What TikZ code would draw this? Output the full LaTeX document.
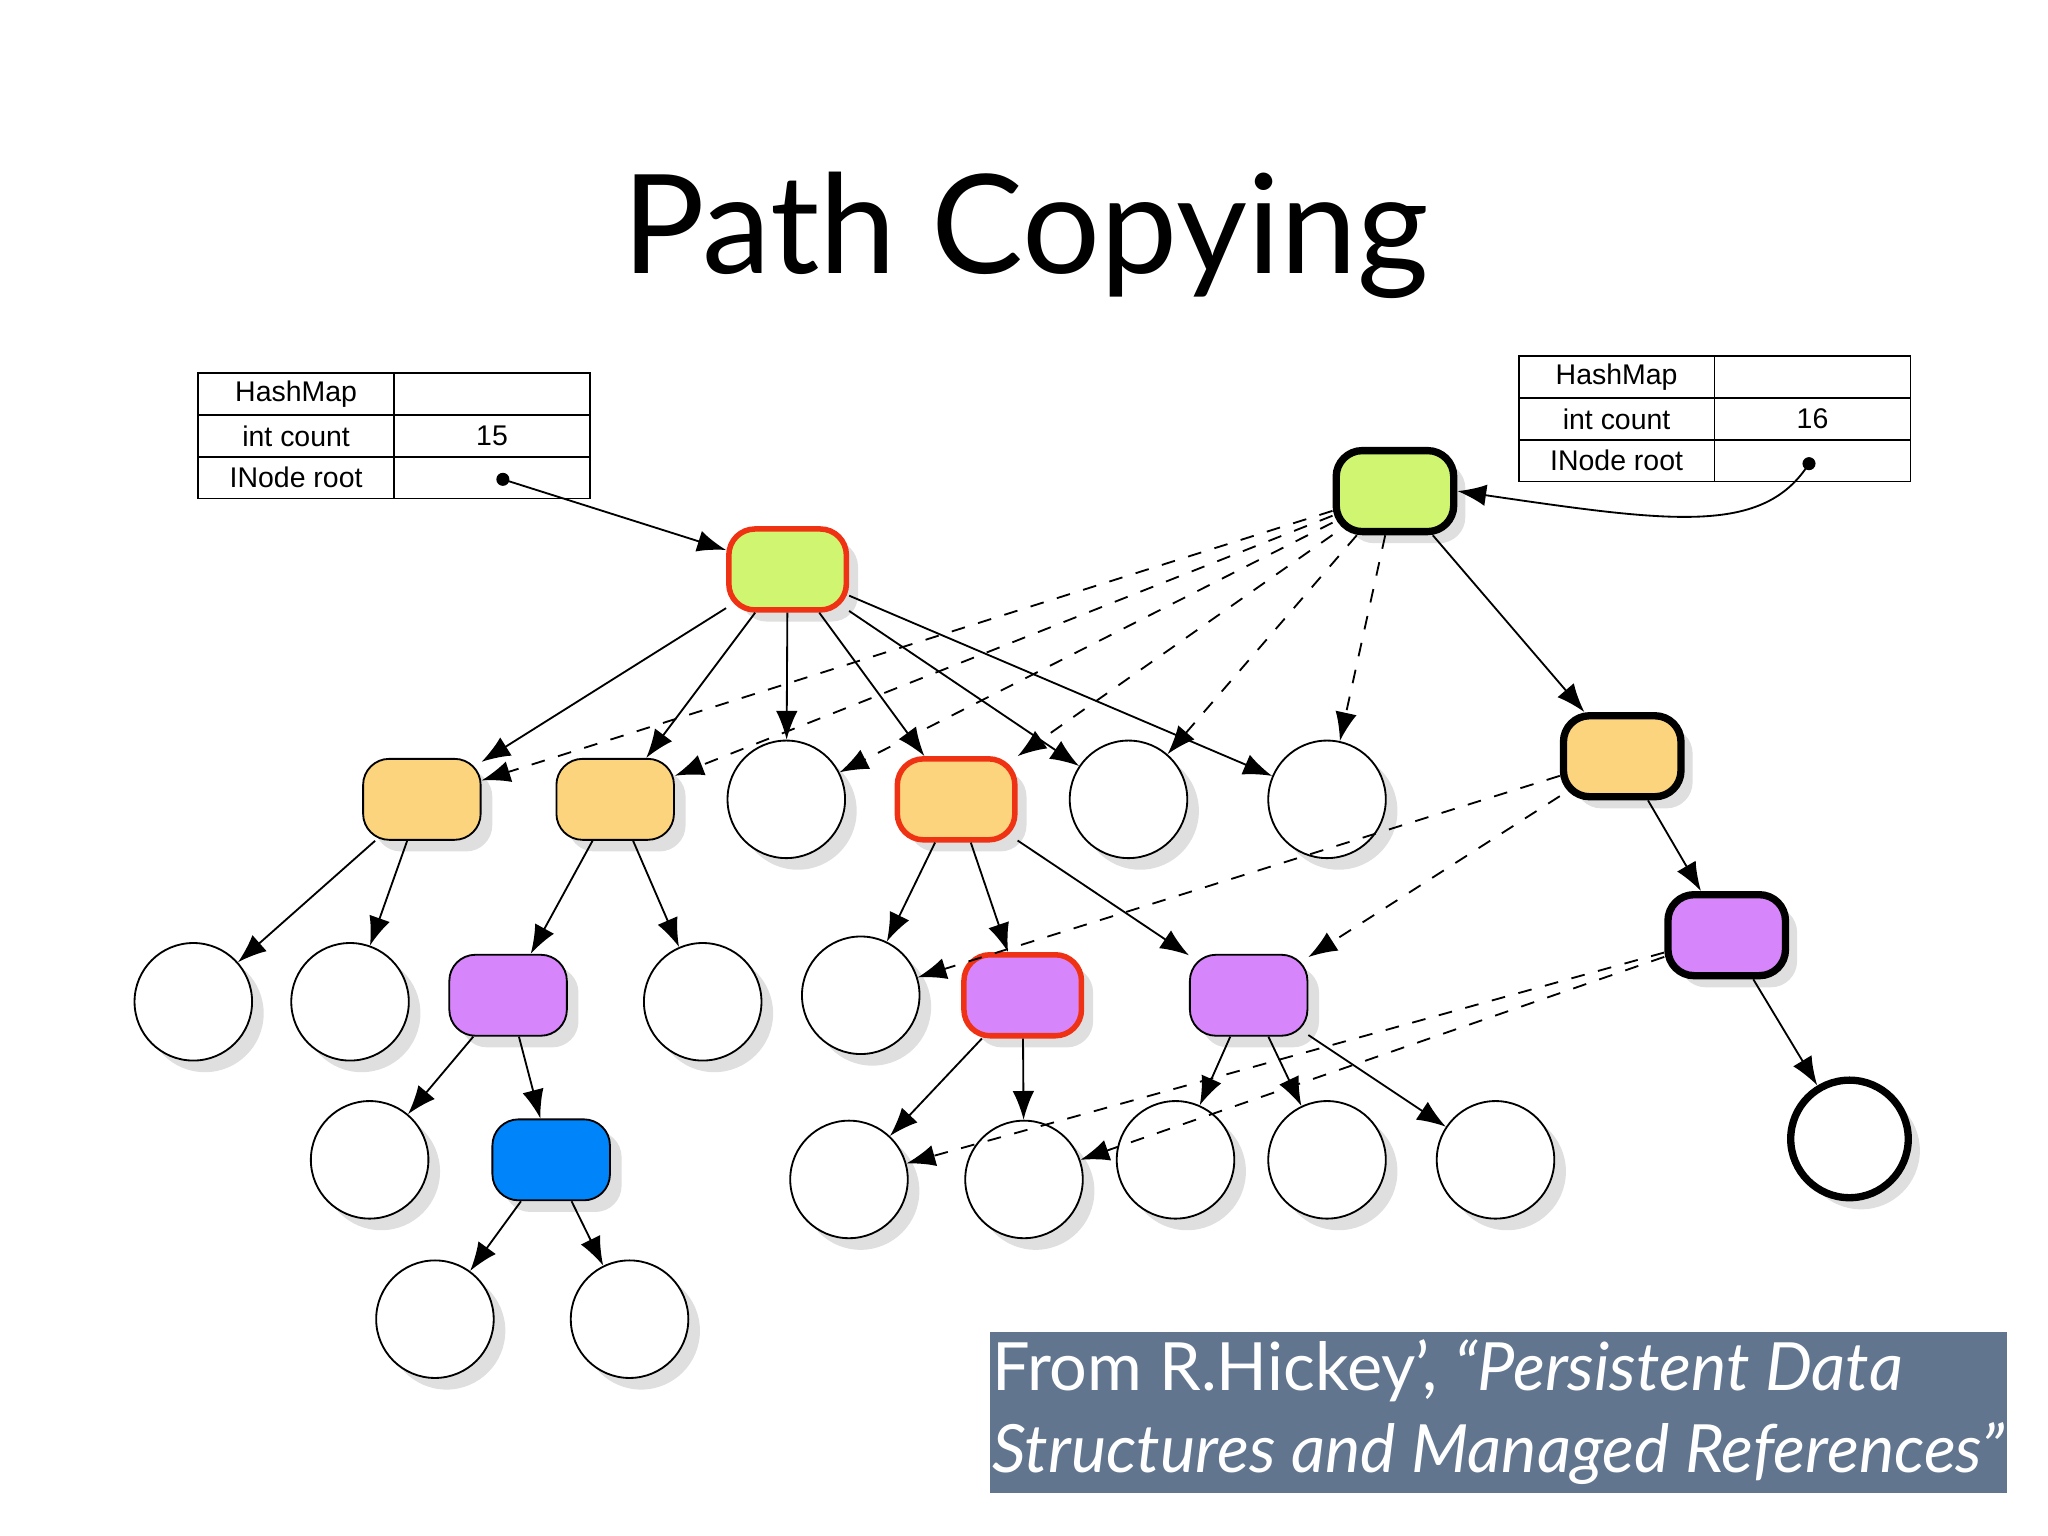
\documentclass[tikz,border=0pt]{standalone}
\usepackage{fontspec}
\setmainfont{Lato}
\setsansfont{Liberation Sans}
\usetikzlibrary{arrows.meta,shadows}
\definecolor{lime}{RGB}{208,245,112}
\definecolor{sand}{RGB}{252,212,126}
\definecolor{lilac}{RGB}{214,134,250}
\definecolor{sky}{RGB}{0,132,250}
\definecolor{redline}{RGB}{240,50,20}
\definecolor{slate}{RGB}{97,117,143}
\tikzset{
  inode/.style={draw, rounded corners=0.2cm, minimum width=0.9cm, minimum height=0.62cm, drop shadow={opacity=0.25}},
  leaf/.style={draw, circle, fill=white, minimum size=0.9cm, drop shadow={opacity=0.25}},
  changed/.style={draw=redline, very thick},
  fresh/.style={ultra thick},
  cell/.style={draw, fill=white, minimum width=1.5cm, minimum height=0.32cm, inner sep=0pt, font=\fontsize{6.2}{7}\selectfont\sffamily},
  link/.style={-{Latex[length=2.2mm]}},
  share/.style={link, dashed},
}
\begin{document}
\begin{tikzpicture}[x=1cm,y=-1cm]
\useasboundingbox (0,0) rectangle (15.68,11.76);
\node[font=\fontsize{30}{36}\selectfont] (title) at (7.85,1.8) {Path Copying};

% old map header
\node[cell, anchor=north west] (oh) at (1.51,2.85) {HashMap};
\node[cell, anchor=north west] (ov) at (3.01,2.85) {};
\node[cell, anchor=north west] (oc) at (1.51,3.17) {int count};
\node[cell, anchor=north west] (ocv) at (3.01,3.17) {15};
\node[cell, anchor=north west] (or) at (1.51,3.49) {INode root};
\node[cell, anchor=north west] (orv) at (3.01,3.49) {};
\fill (3.85,3.67) circle (0.05) coordinate (odot);

% new map header
\node[cell, anchor=north west] (nh) at (11.62,2.72) {HashMap};
\node[cell, anchor=north west] (nv) at (13.12,2.72) {};
\node[cell, anchor=north west] (nc) at (11.62,3.04) {int count};
\node[cell, anchor=north west] (ncv) at (13.12,3.04) {16};
\node[cell, anchor=north west] (nr) at (11.62,3.36) {INode root};
\node[cell, anchor=north west] (nrv) at (13.12,3.36) {};
\fill (13.85,3.55) circle (0.05) coordinate (ndot);

% roots
\node[inode, fill=lime, changed] (rootA) at (6.03,4.36) {};
\node[inode, fill=lime, fresh] (rootB) at (10.68,3.76) {};

% level 2
\node[inode, fill=sand] (a) at (3.23,6.12) {};
\node[inode, fill=sand] (b) at (4.71,6.12) {};
\node[leaf] (c) at (6.02,6.12) {};
\node[inode, fill=sand, changed] (d) at (7.32,6.12) {};
\node[leaf] (e) at (8.64,6.12) {};
\node[leaf] (f) at (10.16,6.12) {};
\node[inode, fill=sand, fresh] (g) at (12.42,5.79) {};

% level 3
\node[leaf] (a1) at (1.48,7.67) {};
\node[leaf] (a2) at (2.68,7.67) {};
\node[inode, fill=lilac] (h) at (3.89,7.62) {};
\node[leaf] (b2) at (5.38,7.67) {};
\node[leaf] (d1) at (6.59,7.62) {};
\node[inode, fill=lilac, changed] (i) at (7.83,7.62) {};
\node[inode, fill=lilac] (j) at (9.56,7.62) {};
\node[inode, fill=lilac, fresh] (k) at (13.22,7.16) {};

% level 4
\node[leaf] (h1) at (2.83,8.88) {};
\node[inode, fill=sky] (l) at (4.22,8.88) {};
\node[leaf] (i1) at (6.50,9.03) {};
\node[leaf] (i2) at (7.84,9.03) {};
\node[leaf] (j1) at (9.00,8.88) {};
\node[leaf] (j2) at (10.16,8.88) {};
\node[leaf] (j3) at (11.45,8.88) {};
\node[leaf, fresh] (k1) at (14.16,8.72) {};

% level 5
\node[leaf] (l1) at (3.33,10.10) {};
\node[leaf] (l2) at (4.82,10.10) {};

% old tree
\draw[link] (odot) -- (rootA);
\foreach \t in {a,b,c,d,e,f} \draw[link] (rootA) -- (\t);
\draw[link] (a) -- (a1);
\draw[link] (a) -- (a2);
\draw[link] (b) -- (h);
\draw[link] (b) -- (b2);
\draw[link] (h) -- (h1);
\draw[link] (h) -- (l);
\draw[link] (l) -- (l1);
\draw[link] (l) -- (l2);
\draw[link] (d) -- (d1);
\draw[link] (d) -- (i);
\draw[link] (d) -- (j);
\draw[link] (i) -- (i1);
\draw[link] (i) -- (i2);
\foreach \t in {j1,j2,j3} \draw[link] (j) -- (\t);

% new path
\draw[link] (ndot) .. controls (13.5,4.1) and (12.8,4.0) .. (rootB.east);
\draw[link] (rootB) -- (g);
\draw[link] (g) -- (k);
\draw[link] (k) -- (k1);
\foreach \t in {a,b,c,d,e,f} \draw[share] (rootB) -- (\t);
\draw[share] (g) -- (d1);
\draw[share] (g) -- (j);
\draw[share] (k) -- (i1);
\draw[share] (k) -- (i2);

% citation
\node[fill=slate, text=white, anchor=north west, align=left, inner sep=0.02cm,
      minimum width=7.7cm, minimum height=1.23cm,
      font=\fontsize{14.5}{18}\selectfont] (cite) at (7.57,10.19)
  {From R.Hickey', \textit{``Persistent Data}\\ \textit{Structures and Managed References''}};
\end{tikzpicture}
\end{document}
